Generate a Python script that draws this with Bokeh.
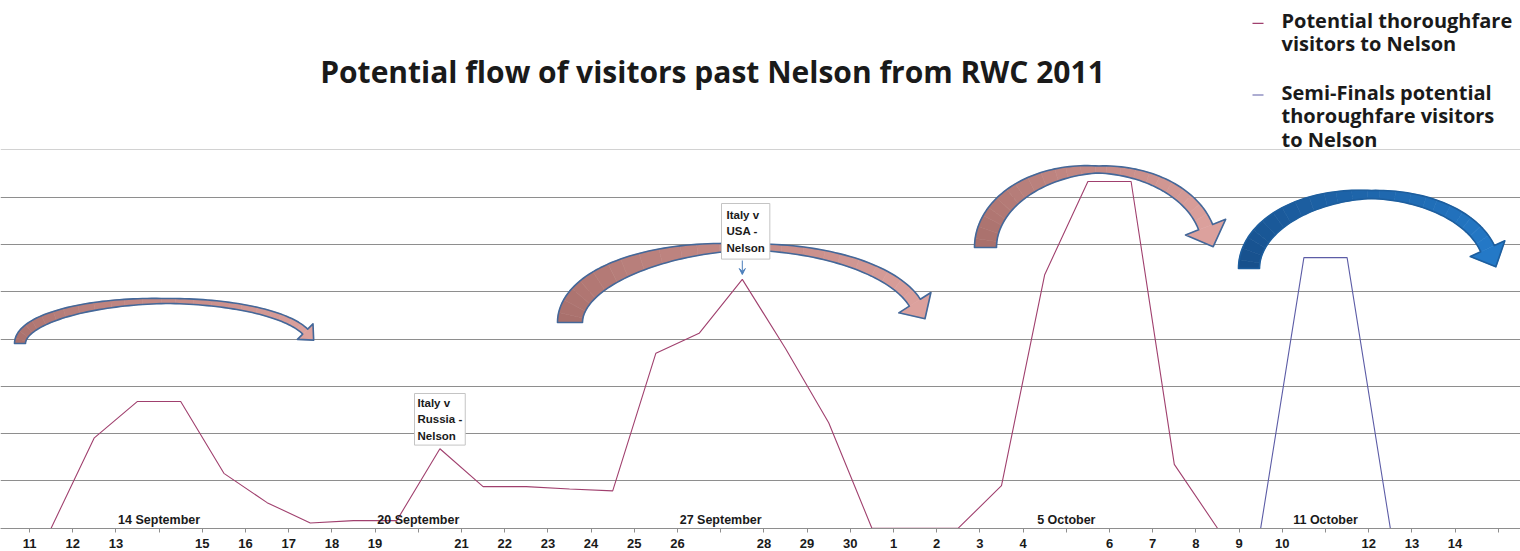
import numpy as np
from bokeh.plotting import figure
from bokeh.models import (Range1d, FixedTicker, Grid, Label, Arrow, VeeHead, ColumnDataSource)
from bokeh.core.properties import value
from bokeh.embed import file_html
from bokeh.resources import INLINE

# ---------------- data ----------------
# one category per day, 11 September .. 15 October 2011
day_labels = ["11", "12", "13", "14", "15", "16", "17", "18", "19", "20",
              "21", "22", "23", "24", "25", "26", "27", "28", "29", "30",
              "1", "2", "3", "4", "5", "6", "7", "8", "9", "10",
              "11", "12", "13", "14", "15"]
# tick labels actually printed under the axis (blank where a date box sits)
tick_labels = ["11", "12", "13", "", "15", "16", "17", "18", "19", "",
               "21", "22", "23", "24", "25", "26", "", "28", "29", "30",
               "1", "2", "3", "4", "", "6", "7", "8", "9", "10",
               "", "12", "13", "14", ""]
# potential thoroughfare visitors to Nelson (days 0..27)
pool_visitors = [0, 1910, 2680, 2680, 1160, 540, 110, 160, 160, 1680,
                 880, 880, 830, 790, 3700, 4120, 5260, 3800, 2230, 0,
                 0, 0, 900, 5360, 7330, 7330, 1350, 0]
# semi-finals potential thoroughfare visitors (days 28..31)
semi_start = 28
semi_visitors = [0, 5720, 5720, 0]

series_names = [["Potential thoroughfare", "visitors to Nelson"],
                ["Semi-Finals potential", "thoroughfare visitors", "to Nelson"]]
event_labels = ["14 September", "20 September", "27 September", "5 October", "11 October"]
event_index = [3, 9, 16, 24, 30]
grid_values = [0, 1000, 2000, 3000, 4000, 5000, 6000, 7000]
top_grid = [8000]

RED = "#a0406e"
BLUE = "#5c5ca6"

# ---------------- layout ----------------
W, H = 1520, 551
PX_PER_DAY = 43.2
PX_PER_UNIT = 0.0473          # pixels per visitor
TICK0_PX = 29.0               # px of the first tick
AXIS_PY = 527.7               # px of the zero line

x0 = -TICK0_PX / PX_PER_DAY
x1 = x0 + W / PX_PER_DAY
y0 = -(H - AXIS_PY) / PX_PER_UNIT
y1 = y0 + H / PX_PER_UNIT


def X(px):
    return (px - TICK0_PX) / PX_PER_DAY


def Y(py):
    return (AXIS_PY - py) / PX_PER_UNIT


p = figure(width=W, height=H, output_backend="svg", toolbar_location=None,
           x_range=Range1d(x0, x1), y_range=Range1d(y0, y1),
           min_border_left=0, min_border_right=0, min_border_top=0, min_border_bottom=0,
           y_axis_location=None)
p.outline_line_color = None
p.background_fill_color = "white"
p.border_fill_color = "white"
p.xgrid.visible = False
p.ygrid.visible = False

g1 = Grid(dimension=1, ticker=FixedTicker(ticks=grid_values),
          grid_line_color="#8e8e8e", grid_line_width=1)
g2 = Grid(dimension=1, ticker=FixedTicker(ticks=top_grid),
          grid_line_color="#d2d2d2", grid_line_width=1)
p.add_layout(g1)
p.add_layout(g2)

ax = p.xaxis[0]
ax.fixed_location = 0
ax.ticker = FixedTicker(ticks=list(range(len(day_labels))))
ax.major_label_overrides = {i: t for i, t in enumerate(tick_labels)}
ax.axis_line_color = "#8e8e8e"
ax.major_tick_line_color = "#8e8e8e"
ax.major_tick_out = 4
ax.major_tick_in = 0
ax.minor_tick_line_color = None
ax.major_label_standoff = 7
ax.major_label_text_font = "Liberation Sans"
ax.major_label_text_font_style = "bold"
ax.major_label_text_font_size = "13px"
ax.major_label_text_color = "#1a1a1a"


# ---------------- curved arrows (decoration) ----------------
def curved_arrow(cx, yb, a, b, wl, wm, wr, end_px, end_py, hw, hl, n=90):
    te = np.arctan2((yb - end_py) / b, (end_px - cx) / a)
    th = np.linspace(np.pi, te, n)
    cxs = cx + a * np.cos(th)
    cys = yb - b * np.sin(th)
    w = np.where(th >= np.pi / 2,
                 wm + (wl - wm) * (-np.cos(th)),
                 wm + (wr - wm) * (np.cos(th) / np.cos(te)))
    nx = np.cos(th) / a
    ny = -np.sin(th) / b
    nn = np.hypot(nx, ny)
    nx, ny = nx / nn, ny / nn
    ox, oy = cxs + nx * w / 2, cys + ny * w / 2
    ix, iy = cxs - nx * w / 2, cys - ny * w / 2
    dx, dy = a * np.sin(te), b * np.cos(te)
    dn = np.hypot(dx, dy)
    dx, dy = dx / dn, dy / dn
    ex, ey = cxs[-1], cys[-1]
    head_x = [ex + nx[-1] * hw, ex + dx * hl, ex - nx[-1] * hw]
    head_y = [ey + ny[-1] * hw, ey + dy * hl, ey - ny[-1] * hw]
    return ox, oy, ix, iy, head_x, head_y


def hexmix(c1, c2, t):
    a = [int(c1[i:i + 2], 16) for i in (1, 3, 5)]
    b = [int(c2[i:i + 2], 16) for i in (1, 3, 5)]
    return "#%02x%02x%02x" % tuple(int(round(a[k] + (b[k] - a[k]) * t)) for k in range(3))


arrow_specs = [
    # cx, yb, a, b, wl, wm, wr, end_px, end_py, hw, hl, col_left, col_right, outline
    (165, 343, 145.5, 42.5, 11, 5, 7, 306, 331, 11, 12, "#a86f6b", "#dca19d", "#43689a"),
    (745, 322, 175.5, 75.5, 25, 6, 13, 916, 302, 19, 19, "#a86f6b", "#dca19d", "#43689a"),
    (1097, 247, 112, 78, 22, 7, 15, 1203, 227, 21.5, 21, "#a86f6b", "#dca19d", "#43689a"),
    (1370, 268, 121.5, 74, 21, 8, 15, 1488, 248, 19, 20, "#174f8b", "#2479c7", "#1d5e9e"),
]

for spec in arrow_specs:
    (cx, yb, a, b, wl, wm, wr, epx, epy, hw, hl, c1, c2, oc) = spec
    ox, oy, ix, iy, hx, hy = curved_arrow(cx, yb, a, b, wl, wm, wr, epx, epy, hw, hl)
    nseg = 24
    idx = np.linspace(0, len(ox) - 1, nseg + 1).astype(int)
    xs, ys, cols = [], [], []
    for s in range(nseg):
        i0, i1 = idx[s], idx[s + 1]
        px = list(ox[i0:i1 + 1]) + list(ix[i0:i1 + 1][::-1])
        py = list(oy[i0:i1 + 1]) + list(iy[i0:i1 + 1][::-1])
        xs.append([X(v) for v in px])
        ys.append([Y(v) for v in py])
        cols.append(hexmix(c1, c2, (s + 0.5) / nseg))
    xs.append([X(v) for v in hx])
    ys.append([Y(v) for v in hy])
    cols.append(c2)
    p.patches(xs=xs, ys=ys, fill_color=cols, line_color=cols, line_width=0.6)
    outline_x = list(ox) + list(hx) + list(ix[::-1])
    outline_y = list(oy) + list(hy) + list(iy[::-1])
    p.patch(x=[X(v) for v in outline_x], y=[Y(v) for v in outline_y],
            fill_color=None, line_color=oc, line_width=1.6, line_join="round")

# ---------------- series ----------------
red_x = np.arange(len(pool_visitors)) + 0.5
blue_x = np.arange(semi_start, semi_start + len(semi_visitors)) + 0.5
p.line(red_x, pool_visitors, line_color=RED, line_width=1.1)
p.line(blue_x, semi_visitors, line_color=BLUE, line_width=1.1)

# date labels sitting on the axis
ev_src = ColumnDataSource(dict(x=event_index, y=[Y(519)] * len(event_index), t=event_labels))
p.text(x="x", y="y", text="t", source=ev_src, text_align="center", text_baseline="middle",
       text_font=value("Liberation Sans"), text_font_style="bold", text_font_size="12.5px",
       text_color="#1a1a1a")

# match call-outs
lab1 = Label(x=X(414), y=Y(393), text="Italy v\nRussia -\nNelson", anchor="top_left",
             text_font="Liberation Sans", text_font_style="bold", text_font_size="11.5px",
             text_line_height=1.4, text_color="#1a1a1a", padding=3,
             background_fill_color="white", border_line_color="#c4c4c4")
lab2 = Label(x=X(721), y=Y(203), text="Italy v\nUSA -\nNelson", anchor="top_left",
             text_font="Liberation Sans", text_font_style="bold", text_font_size="11.5px",
             text_line_height=1.4, text_color="#1a1a1a", padding=5,
             background_fill_color="white", border_line_color="#c4c4c4")
p.add_layout(lab1)
p.add_layout(lab2)

peak = int(np.argmax(pool_visitors[:20]))
p.add_layout(Arrow(end=VeeHead(size=6, line_color="#4a7ebb", fill_color="#4a7ebb", line_width=1),
                   x_start=red_x[peak], y_start=Y(260), x_end=red_x[peak], y_end=Y(274),
                   line_color="#4a7ebb", line_width=1))

# title
p.add_layout(Label(x=X(712), y=Y(71), text="Potential flow of visitors past Nelson from RWC 2011",
                   text_align="center", text_baseline="middle", text_font="Open Sans",
                   text_font_style="bold", text_font_size="30px", text_color="#1a1a1a"))

# legend (key dash + wrapped name per series)
LEG_DASH_X0, LEG_DASH_X1, LEG_TEXT_X = 1252, 1263, 1281
LEG_PITCH = 23.5
LEG_TEXT_SHIFT = -8.5
block_first_baseline = [28.3, 100.0]
series_colors = [RED, BLUE]
lx, ly, lt = [], [], []
dx0, dx1, dy, dc = [], [], [], []
for names, base, col in zip(series_names, block_first_baseline, series_colors):
    for j, t in enumerate(names):
        lx.append(X(LEG_TEXT_X))
        ly.append(Y(base + LEG_TEXT_SHIFT + j * LEG_PITCH))
        lt.append(t)
    dx0.append(X(LEG_DASH_X0))
    dx1.append(X(LEG_DASH_X1))
    dy.append(Y(base - 5.5))
    dc.append(col)
p.segment(x0=dx0, y0=dy, x1=dx1, y1=dy, line_color=dc, line_width=1.2)
p.text(x=lx, y=ly, text=lt, text_align="left", text_baseline="alphabetic",
       text_font=value("Open Sans"), text_font_style="bold", text_font_size="20px",
       text_color="#1a1a1a")

open("out.html", "w").write(file_html(p, INLINE))
